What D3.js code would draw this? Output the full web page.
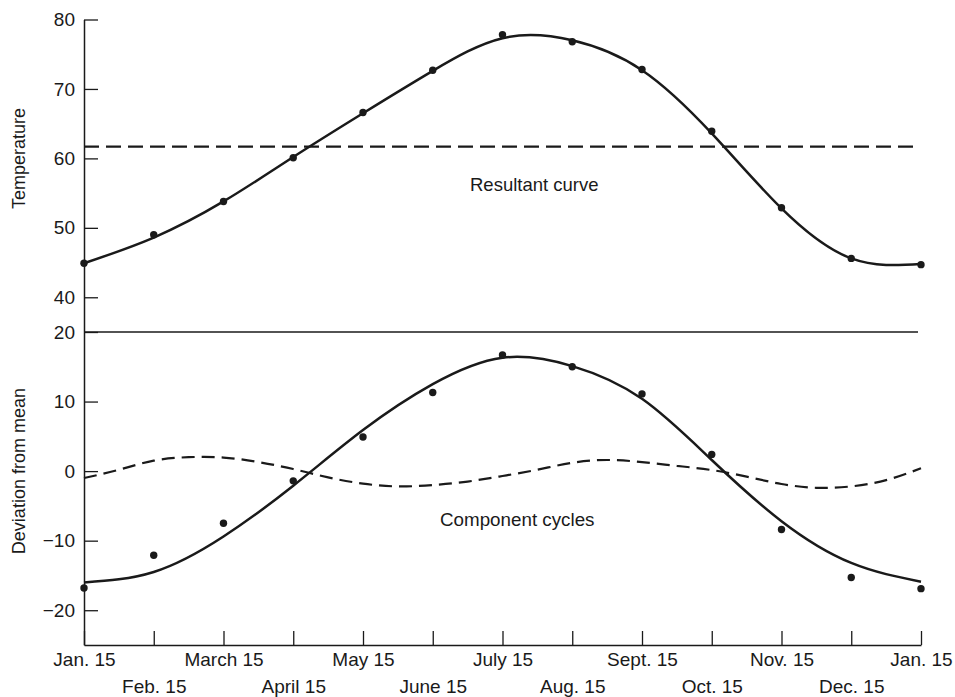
<!DOCTYPE html>
<html>
<head>
<meta charset="utf-8">
<script src="https://cdn.jsdelivr.net/npm/d3@7"></script>
<style>
  html, body { margin: 0; padding: 0; background: #ffffff; }
  svg { display: block; }
  text { font-family: "Liberation Sans", Arial, Helvetica, sans-serif; fill: #1a1a1a; }
</style>
</head>
<body>
<svg id="chart" width="955" height="697"></svg>
<script>
// ---- data ----
const monthLabels = ["Jan. 15","Feb. 15","March 15","April 15","May 15","June 15","July 15",
                     "Aug. 15","Sept. 15","Oct. 15","Nov. 15","Dec. 15","Jan. 15"];
const monthIndex = [0,1,2,3,4,5,6,7,8,9,10,11,12];

// Top panel: observed temperatures and the resultant (fitted) curve
const tempObserved = [44.9, 49.0, 53.8, 60.1, 66.6, 72.7, 77.8, 76.8, 72.8, 63.9, 52.9, 45.6, 44.7];
const tempResultant = [44.9, 48.6, 53.8, 60.2, 66.5, 72.6, 77.3, 77.0, 72.7, 63.6, 52.8, 45.6, 44.8];
const tempMean = 61.7;

// Bottom panel: deviations from mean and the two component cycles
const devObserved = [-16.8, -12.1, -7.5, -1.4, 4.9, 11.3, 16.7, 15.0, 11.1, 2.4, -8.4, -15.3, -16.9];
const cycleAnnual = [-16.0, -14.5, -9.4, -2.1, 5.9, 12.5, 16.3, 15.1, 10.4, 1.6, -7.2, -13.2, -15.9];
const halfMonthIndex = [0,0.5,1,1.5,2,2.5,3,3.5,4,4.5,5,5.5,6,6.5,7,7.5,8,8.5,9,9.5,10,10.5,11,11.5,12];
const cycleSemiAnnual = [-1.0, 0.2, 1.5, 2.0, 1.95, 1.3, 0.3, -0.9, -1.8, -2.2, -2.0, -1.5, -0.7,
                         0.2, 1.2, 1.6, 1.3, 0.75, 0.15, -0.8, -1.85, -2.4, -2.2, -1.3, 0.4];

const tempTicks = [40, 50, 60, 70, 80];
const devTicks = [-20, -10, 0, 10, 20];

// ---- layout ----
const svg = d3.select("#chart");
const ink = "#1a1a1a";
const fontSize = 19;

const x = d3.scaleLinear().domain([0, 12]).range([84, 921]);
const yTemp = d3.scaleLinear().domain([35, 80]).range([332, 19.5]);
const yDev = d3.scaleLinear().domain([-25, 20]).range([645, 332]);

const fmtMinus = d => (d < 0 ? "\u2212" + Math.abs(d) : String(d));

// Y axes
const gTempAxis = svg.append("g").attr("transform", `translate(${x(0)},0)`)
  .call(d3.axisLeft(yTemp).tickValues(tempTicks).tickSize(-14).tickSizeOuter(0).tickPadding(9).tickFormat(fmtMinus));
const gDevAxis = svg.append("g").attr("transform", `translate(${x(0)},0)`)
  .call(d3.axisLeft(yDev).tickValues(devTicks).tickSize(-14).tickSizeOuter(0).tickPadding(9).tickFormat(fmtMinus));

// X axis
const gX = svg.append("g").attr("transform", `translate(0,${yDev(-25)})`)
  .call(d3.axisBottom(x).tickValues(monthIndex).tickSize(-14).tickSizeOuter(0)
        .tickFormat(i => monthLabels[i]));
gX.selectAll(".tick text")
  .attr("y", (d, i) => (i % 2 === 0 ? 21 : 48))
  .attr("dy", 0);

[gTempAxis, gDevAxis, gX].forEach(g => {
  g.selectAll("path.domain").attr("stroke", ink).attr("stroke-width", 1.5);
  g.selectAll(".tick line").attr("stroke", ink).attr("stroke-width", 1.3);
  g.selectAll(".tick text").attr("font-size", fontSize).attr("fill", ink)
    .style("font-family", '"Liberation Sans", Arial, sans-serif');
});

// Panel separator line (top of deviation panel)
svg.append("line")
  .attr("x1", x(0)).attr("x2", x(12) - 3)
  .attr("y1", yDev(20)).attr("y2", yDev(20))
  .attr("stroke", ink).attr("stroke-width", 1.5);

// Axis titles
svg.append("text")
  .attr("transform", `translate(19,${yTemp(60)}) rotate(-90)`)
  .attr("text-anchor", "middle").attr("dominant-baseline", "central")
  .attr("font-size", 18).text("Temperature");
svg.append("text")
  .attr("transform", `translate(19,${yDev(0)}) rotate(-90)`)
  .attr("text-anchor", "middle").attr("dominant-baseline", "central")
  .attr("font-size", 18).text("Deviation from mean");

// ---- top panel ----
svg.append("line")
  .attr("x1", x(0)).attr("x2", x(12) - 3)
  .attr("y1", yTemp(tempMean)).attr("y2", yTemp(tempMean))
  .attr("stroke", ink).attr("stroke-width", 2.2)
  .attr("stroke-dasharray", "15,7");

const lineTemp = d3.line().x((d, i) => x(monthIndex[i])).y(d => yTemp(d)).curve(d3.curveNatural);
svg.append("path").datum(tempResultant)
  .attr("d", lineTemp).attr("fill", "none").attr("stroke", ink).attr("stroke-width", 2.5);

svg.append("g").selectAll("circle").data(tempObserved).join("circle")
  .attr("cx", (d, i) => x(monthIndex[i])).attr("cy", d => yTemp(d)).attr("r", 3.7).attr("fill", ink);

svg.append("text").attr("x", 470).attr("y", 191).attr("font-size", 18.5).text("Resultant curve");

// ---- bottom panel ----
const lineDev = d3.line().x((d, i) => x(monthIndex[i])).y(d => yDev(d)).curve(d3.curveNatural);
svg.append("path").datum(cycleAnnual)
  .attr("d", lineDev).attr("fill", "none").attr("stroke", ink).attr("stroke-width", 2.5);

const lineSemi = d3.line().x((d, i) => x(halfMonthIndex[i])).y(d => yDev(d)).curve(d3.curveNatural);
svg.append("path").datum(cycleSemiAnnual)
  .attr("d", lineSemi).attr("fill", "none").attr("stroke", ink).attr("stroke-width", 2.2)
  .attr("stroke-dasharray", "13,7");

svg.append("g").selectAll("circle").data(devObserved).join("circle")
  .attr("cx", (d, i) => x(monthIndex[i])).attr("cy", d => yDev(d)).attr("r", 3.7).attr("fill", ink);

svg.append("text").attr("x", 440).attr("y", 526).attr("font-size", 18.8).text("Component cycles");
</script>
</body>
</html>
